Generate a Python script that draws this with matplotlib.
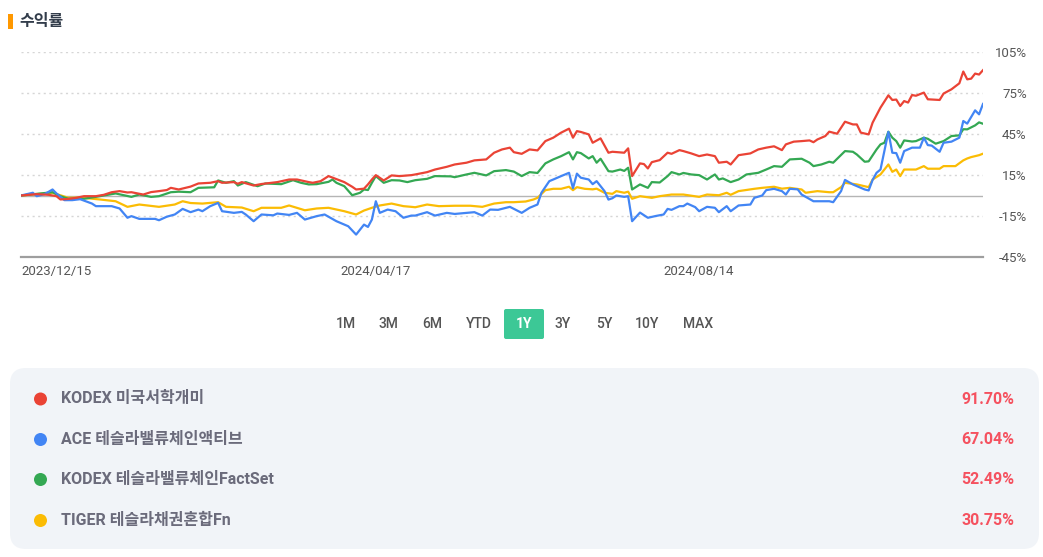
import matplotlib
matplotlib.use("Agg")
from matplotlib import pyplot as plt
from matplotlib.patches import FancyBboxPatch, Circle, Rectangle

plt.rcParams['font.family'] = ['Roboto', 'Noto Sans CJK KR', 'DejaVu Sans']

#%%
"""
Data: trading-day index since 2023/12/15, cumulative return in %
"""
kodex_us = [(0, 0), (4, 1), (7, 0.5), (9, -0.5), (10, -2.9), (12, -2.5), (14, -1.7), (16, -0.5), (19, -0.5),
            (21, 0.5), (23, 2.4), (25, 3.2), (27, 2.2), (28, 2.4), (31, 0.7), (33, 2.5), (35, 3.2), (37, 4),
            (38, 5.6), (40, 4.4), (43, 6.5), (45, 8.8), (48, 9.3), (50, 10.5), (51, 9.3), (54, 9.8), (55, 8.6),
            (56, 9.8), (59, 7.3), (61, 8.4), (65, 9.8), (68, 11.7), (70, 11.7), (73, 9.8), (74, 9.3), (76, 10.5),
            (78, 14.2), (80, 12), (82, 9.8), (84, 6.4), (85, 4.4), (87, 5), (88, 8.1), (89, 11.7), (90, 14.9),
            (92, 11), (94, 14.7), (96, 14.2), (99, 14.9), (100, 15.4), (103, 17.1), (105, 19), (108, 21),
            (110, 22.7), (113, 24), (115, 25.7), (118, 26.4), (120, 31.3), (122, 33.7), (124, 35), (125, 31.7),
            (127, 30.5), (129, 33.7), (131, 33), (133, 39.8), (135, 42.3), (137, 46), (139, 48.9), (140, 42.3),
            (141, 47.1), (142, 46.5), (144, 44.7), (145, 38.6), (147, 41.8), (149, 31.3), (150, 32), (153, 31.3),
            (154, 34.5), (155, 14.2), (157, 23.5), (158, 23), (159, 19.8), (160, 24.4), (162, 25.9), (164, 31.3),
            (165, 30.5), (167, 33.2), (168, 32.5), (170, 30.8), (172, 28.8), (174, 30), (176, 28.8), (177, 24),
            (179, 24.7), (180, 22.7), (182, 29.5), (185, 30.8), (187, 33.7), (189, 35), (191, 36), (193, 33.2),
            (194, 37.4), (196, 39.4), (198, 39.8), (200, 40.3), (201, 39), (202, 41), (204, 43.5), (205, 46.7),
            (207, 45.2), (209, 54), (211, 52), (212, 52), (213, 46), (215, 44.7), (216, 53.3), (218, 64.3),
            (220, 73.3), (221, 69.9), (222, 70.2), (223, 65.5), (224, 69.1), (225, 68), (226, 73.5), (227, 73),
            (229, 75.3), (230, 70.4), (233, 69.9), (234, 74.6), (236, 77.7), (238, 82.1), (239, 90.7), (240, 85),
            (241, 85.5), (242, 89.2), (243, 88.5), (244, 91.7)]

ace_tesla = [(0, 0), (3, 2), (4, -0.5), (6, 1), (8, 4.4), (9, 1.5), (11, -3.4), (13, -3.4), (15, -2.7), (18, -5.9),
             (19, -7.8), (23, -7.8), (25, -9.5), (27, -16.3), (28, -15.1), (30, -17.1), (34, -17.1), (35, -18.1),
             (37, -15.5), (39, -13.9), (41, -9.8), (43, -12.2), (45, -10.3), (46, -11.5), (48, -7.8), (50, -5.4),
             (51, -11.5), (54, -12.7), (56, -12), (57, -13.9), (59, -18.8), (61, -13.9), (64, -14.5), (65, -13.2),
             (68, -14.2), (70, -12.7), (72, -17.6), (75, -15.1), (77, -13.9), (80, -18.8), (83, -22.5), (85, -28.6),
             (87, -21.3), (88, -23), (89, -17.6), (90, -4.2), (91, -12.7), (93, -10.3), (95, -11.5), (97, -16.3),
             (99, -14.7), (100, -14.7), (103, -12.2), (105, -14.7), (108, -12.7), (110, -13.5), (113, -12.7),
             (115, -12.2), (117, -14.7), (119, -10.3), (121, -10.5), (124, -8.3), (127, -12.7), (129, -9),
             (131, -6.6), (132, 2), (134, 10.5), (135, 11.7), (137, 14.2), (139, 16.6), (140, 5.3), (141, 16),
             (142, 13), (144, 11.7), (145, 8.3), (146, 10.5), (148, 3.2), (149, -3), (150, -2), (151, 0), (153, -1),
             (154, -0.5), (155, -18.8), (157, -12.5), (159, -16.3), (161, -15), (163, -13.9), (164, -9.8),
             (165, -10.5), (167, -7.8), (168, -7.8), (169, -5.9), (171, -8.5), (172, -11.5), (174, -8.3), (176, -9),
             (177, -12.2), (179, -7.8), (180, -11.5), (182, -7.3), (185, -6.6), (186, -1.7), (188, 0), (189, 3.9),
             (191, 4.9), (193, 3.2), (194, 0.7), (195, 4.9), (197, 4.5), (198, 0.7), (201, -4.2), (203, -4.2),
             (205, -4.2), (206, -4.9), (208, 3.2), (209, 11.4), (211, 8.1), (214, 4.4), (215, 3.7), (216, 11.4),
             (217, 16.6), (218, 19), (220, 46.5), (221, 31.3), (222, 31), (223, 24), (224, 32.5), (226, 35),
             (228, 35), (229, 42.3), (230, 36.9), (231, 36.5), (233, 32), (234, 38.6), (236, 39.4), (238, 42.3),
             (239, 54.5), (240, 52.6), (242, 62.3), (243, 59.4), (244, 67)]

kodex_tesla = [(0, 0), (8, 2.4), (10, -0.5), (12, -2.4), (16, -2.4), (20, -0.5), (24, 1.5), (28, -1), (30, 0.7),
               (33, -1), (35, -0.5), (38, 2.4), (40, 2.8), (43, 2.4), (45, 5.6), (49, 6), (50, 11), (52, 9.3),
               (54, 10.5), (55, 7.3), (57, 9.8), (60, 6.8), (62, 8.8), (66, 8.3), (69, 11.2), (71, 9.3), (73, 8.1),
               (75, 8.3), (78, 10), (79, 11.7), (80, 9.3), (82, 6.8), (84, 0.2), (86, 2), (87, 4.4), (88, 4),
               (89, 9.3), (90, 14.2), (92, 9.3), (94, 11.2), (96, 11), (98, 9.8), (100, 11.2), (103, 12.2),
               (105, 14.2), (109, 14), (110, 13.4), (113, 15.4), (115, 16.6), (118, 14.7), (120, 17.8), (123, 18.6),
               (125, 17.5), (127, 14.2), (129, 17.1), (131, 16.5), (133, 23.5), (135, 26.4), (137, 28.8),
               (139, 31.7), (140, 26.4), (141, 31.7), (142, 31), (144, 27.1), (145, 28.8), (146, 24), (147, 26.9),
               (149, 17.8), (150, 17.5), (152, 19), (153, 18), (154, 20.3), (155, 4.4), (157, 8.1), (159, 5.6),
               (160, 9.8), (162, 9.5), (164, 14.2), (165, 17.1), (167, 15.4), (168, 16.5), (170, 15.4), (172, 14.9),
               (174, 11.7), (176, 15.4), (177, 11.7), (178, 12.5), (180, 9.8), (182, 11.7), (184, 15.4), (187, 16.6),
               (189, 19), (191, 21.5), (193, 21), (195, 26.4), (198, 26.9), (200, 24), (201, 21.5), (203, 22.7),
               (205, 24.7), (206, 24), (209, 32.5), (211, 32), (212, 30), (214, 24.7), (215, 25), (217, 33.7),
               (218, 37.4), (219, 38.6), (220, 46.7), (221, 42.3), (222, 39.8), (223, 35), (224, 40.3), (226, 39.5),
               (227, 39.8), (229, 42.3), (230, 41.5), (232, 37.9), (234, 39.8), (236, 43.5), (238, 44), (239, 48.5),
               (240, 48.4), (242, 51.3), (243, 53.5), (244, 52.5)]

tiger_tesla = [(0, 0), (8, 2), (12, -1.7), (15, -1.5), (20, -2.9), (24, -4.2), (27, -8.3), (30, -6.6), (35, -8.3),
               (39, -6.6), (41, -4.2), (43, -5.5), (46, -5.9), (50, -4.9), (52, -8.3), (56, -8.8), (59, -11.5),
               (61, -9), (66, -9), (68, -7.3), (72, -10.8), (75, -9.5), (78, -9), (82, -11.5), (85, -13.9), (87, -11),
               (89, -9), (91, -7.3), (94, -5.9), (97, -7.8), (99, -8.3), (100, -8.6), (103, -6.6), (106, -7.8),
               (110, -7.5), (114, -7.5), (117, -8.3), (120, -5.9), (123, -4.9), (125, -4.9), (128, -4.4), (130, -2.9),
               (131, -1.7), (133, 3.9), (135, 4.9), (137, 4.9), (139, 6.4), (140, 3.9), (141, 6.1), (143, 4.9),
               (145, 4.5), (146, 5), (148, 2), (150, 1.2), (151, 3.2), (153, 2), (154, 2.8), (155, -2.4), (157, -0.5),
               (160, -1.7), (162, -0.5), (165, 0.7), (168, 0.7), (172, -1), (174, 0.7), (177, 0.2), (179, 2),
               (180, 0.5), (182, 3.2), (186, 4.9), (188, 5.6), (191, 6.4), (193, 5), (195, 5.6), (198, 4.4), (199, 2),
               (202, 3.2), (205, 2.4), (206, 2.4), (208, 6.1), (209, 9.3), (212, 8.1), (215, 6.1), (216, 11.7),
               (218, 15.4), (220, 22.7), (221, 17.3), (222, 19), (223, 14.2), (224, 19), (227, 19), (229, 21.5),
               (230, 19.6), (233, 19.6), (234, 21.5), (237, 21.5), (239, 25.7), (240, 27.1), (241, 28.1), (243, 29.5),
               (244, 30.6)]

names = ["KODEX 미국서학개미", "ACE 테슬라밸류체인액티브", "KODEX 테슬라밸류체인FactSet", "TIGER 테슬라채권혼합Fn"]
returns = ["91.70%", "67.04%", "52.49%", "30.75%"]
series = [kodex_us, ace_tesla, kodex_tesla, tiger_tesla]
colors = ["#ea4335", "#4285f4", "#34a853", "#fbbc04"]

date_ticks = [0, 81, 163]
date_labels = ["2023/12/15", "2024/04/17", "2024/08/14"]
y_ticks = [-45, -15, 15, 45, 75, 105]
periods = ["1M", "3M", "6M", "YTD", "1Y", "3Y", "5Y", "10Y", "MAX"]
selected = "1Y"

#%%
W, H = 1043, 557
fig = plt.figure(figsize=(W / 100, H / 100), dpi=100)
fig.patch.set_facecolor("white")

# pixel-space overlay for decorations
bg = fig.add_axes([0, 0, 1, 1], zorder=0)
bg.set_xlim(0, W)
bg.set_ylim(H, 0)
bg.axis("off")

# title
bg.add_patch(Rectangle((8, 14), 5, 15, color="#ff9800", lw=0))
bg.text(19, 21.5, "수익률", fontsize=11.5, fontweight="bold", color="#333d4b", va="center", ha="left")

# chart
ax = fig.add_axes([21 / W, 1 - 257 / H, 962 / W, 205 / H], zorder=1)
ax.patch.set_alpha(0)
for (pts, c) in list(zip(series, colors))[::-1]:
    t = [p[0] for p in pts]
    v = [p[1] for p in pts]
    ax.plot(t, v, color=c, lw=1.6, solid_joinstyle="round")

ax.set_xlim(0, 244)
ax.set_ylim(-45, 105)
for y in y_ticks:
    if y == -45:
        continue
    ax.axhline(y, color="#d6d6d6", lw=1, linestyle=(0, (1.5, 2.5)), zorder=0)
ax.axhline(0, color="#b5b5b5", lw=1, zorder=0)
for s in ["top", "left", "right"]:
    ax.spines[s].set_visible(False)
ax.spines["bottom"].set_color("#9e9e9e")
ax.spines["bottom"].set_linewidth(1.6)

ax.yaxis.tick_right()
ax.set_yticks(y_ticks)
ax.set_yticklabels([f"{y}%" for y in y_ticks])
ax.tick_params(axis="y", length=0, pad=31.5, labelsize=9.5, labelcolor="#555555")
for lab in ax.get_yticklabels():
    lab.set_horizontalalignment("right")

ax.set_xticks(date_ticks)
ax.set_xticklabels(date_labels)
ax.tick_params(axis="x", length=0, pad=6, labelsize=9.5, labelcolor="#555555")
for lab in ax.get_xticklabels():
    lab.set_horizontalalignment("left")

# period buttons
btn_x = [346, 388, 432, 479, 524, 563, 604, 647, 698]
for px, p in zip(btn_x, periods):
    if p == selected:
        bg.add_patch(FancyBboxPatch((504, 309), 40, 30, boxstyle="round,pad=0,rounding_size=2",
                                    fc="#3cc896", ec="none"))
        bg.text(px, 324, p, ha="center", va="center", fontsize=10, fontweight="bold", color="white")
    else:
        bg.text(px, 324, p, ha="center", va="center", fontsize=10, fontweight="medium", color="#555555")

# legend panel
bg.add_patch(FancyBboxPatch((10, 368), 1029, 181, boxstyle="round,pad=0,rounding_size=16",
                            fc="#f1f4f8", ec="none"))
row_y = [399, 439.5, 479.5, 520.5]
for ry, name, ret, c in zip(row_y, names, returns, colors):
    bg.add_patch(Circle((40.5, ry), 6.5, color=c, lw=0))
    bg.text(61, ry, name, ha="left", va="center", fontsize=11.5, fontweight="bold", color="#6b6b7b")
    bg.text(1014, ry, ret, ha="right", va="center", fontsize=11.5, fontweight="bold", color="#f5515f")

fig.savefig("out.png", dpi=100, facecolor="white")
